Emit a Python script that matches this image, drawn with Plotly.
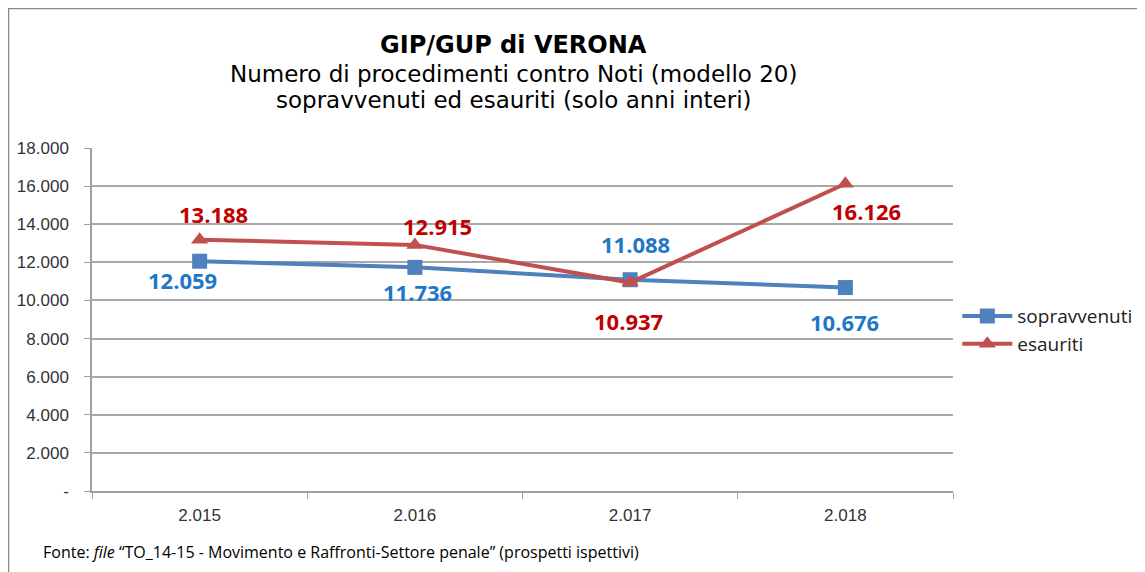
import plotly.graph_objects as go

years = ["2.015", "2.016", "2.017", "2.018"]
sopravvenuti = [12059, 11736, 11088, 10676]
esauriti = [13188, 12915, 10937, 16126]
y_ticks = [0, 2000, 4000, 6000, 8000, 10000, 12000, 14000, 16000, 18000]
y_labels = ["-", "2.000", "4.000", "6.000", "8.000", "10.000", "12.000", "14.000", "16.000", "18.000"]

# label offsets in pixels (style only)
sopr_shift = [(-17, -19), (3, -25), (5, 36), (-1, -34)]
esau_shift = [(14, 26), (23, 19), (-2, -38), (21, -27)]

def fmt(v):
    return f"{v:,}".replace(",", ".")

xs = list(range(len(years)))
BLUE = "#4F81BD"
RED = "#C0504D"

fig = go.Figure()
fig.add_trace(go.Scatter(
    x=xs, y=sopravvenuti, name="sopravvenuti", mode="lines+markers",
    line=dict(color=BLUE, width=4),
    marker=dict(symbol="square", size=15, color=BLUE),
    cliponaxis=False,
))
fig.add_trace(go.Scatter(
    x=xs, y=esauriti, name="esauriti", mode="lines+markers",
    line=dict(color=RED, width=4),
    marker=dict(symbol="triangle-up", size=15, color=RED),
    cliponaxis=False,
))

for vals, shifts, col in [(sopravvenuti, sopr_shift, "#1F77C8"), (esauriti, esau_shift, "#C00000")]:
    for xi, v, (dx, dy) in zip(xs, vals, shifts):
        fig.add_annotation(x=xi, y=v, xref="x", yref="y", text=fmt(v), showarrow=False,
                           xanchor="center", yanchor="middle", xshift=dx, yshift=dy,
                           font=dict(family="Open Sans", size=22, color=col, weight="bold"))

fig.update_layout(
    width=1137, height=564,
    margin=dict(l=84, r=192, t=140, b=81, autoexpand=False),
    paper_bgcolor="white", plot_bgcolor="white",
    showlegend=True,
    legend=dict(x=1.005, y=0.469, xanchor="left", yanchor="middle",
                font=dict(family="Open Sans", size=19, color="#222"),
                tracegroupgap=0, itemwidth=50),
    font=dict(family="Liberation Sans", color="#333"),
    xaxis=dict(
        range=[-0.5, 3.5], tickvals=xs, ticktext=years, ticks="",
        showgrid=False, showline=True, linecolor="#A0A0A0", linewidth=1.5,
        tickfont=dict(family="Liberation Sans", size=17, color="#333"),
        zeroline=False, automargin=False, ticklabelstandoff=8,
        minor=dict(tickvals=[-0.5, 0.5, 1.5, 2.5, 3.5], ticks="outside", ticklen=6,
                   tickcolor="#A0A0A0", showgrid=False),
    ),
    yaxis=dict(
        range=[0, 18000], tickvals=y_ticks, ticktext=y_labels,
        showgrid=True, gridcolor="#A8A8A8", gridwidth=1.5,
        showline=True, linecolor="#A0A0A0", linewidth=1.5,
        ticks="outside", ticklen=6, tickcolor="#A0A0A0",
        tickfont=dict(family="Liberation Sans", size=17, color="#333"),
        zeroline=False, automargin=False, ticklabelstandoff=12,
    ),
)

title_lines = [
    ("<b>GIP/GUP di VERONA</b>", 1.300, 24),
    ("Numero di procedimenti contro Noti (modello 20)", 1.2157, 23),
    ("sopravvenuti ed esauriti (solo anni interi)", 1.140, 23),
]
for txt, yy, sz in title_lines:
    fig.add_annotation(xref="paper", yref="paper", x=0.490, y=yy, yanchor="middle",
                       text=txt, showarrow=False,
                       font=dict(family="DejaVu Sans", size=sz, color="black"))
fig.add_annotation(xref="paper", yref="paper", x=-0.0595, y=0, yshift=-61, xanchor="left", yanchor="middle",
                   text="Fonte: <i>file</i> \u201cTO_14-15 - Movimento e Raffronti-Settore penale\u201d (prospetti ispettivi)",
                   showarrow=False,
                   font=dict(family="Open Sans", size=16, color="black"))
fig.add_shape(type="rect", xref="paper", yref="paper",
              x0=-0.0970, x1=1.2149, y0=-0.3, y1=1.4067,
              line=dict(color="#888888", width=1.5))
fig.write_html("out.html")
